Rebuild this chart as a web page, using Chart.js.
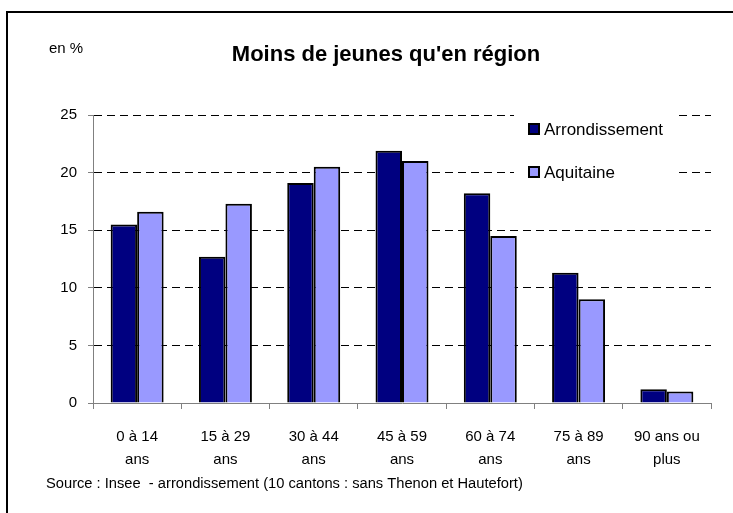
<!DOCTYPE html>
<html>
<head>
<meta charset="utf-8">
<script src="https://cdn.jsdelivr.net/npm/chart.js@4/dist/chart.umd.min.js"></script>
<style>
  html, body { margin: 0; padding: 0; background: #fff; }
  #wrap { position: relative; width: 733px; height: 513px; }
  canvas { display: block; }
</style>
</head>
<body>
<div id="wrap"><canvas id="c" width="733" height="513"></canvas></div>
<script>
const categories = [["0 à 14","ans"],["15 à 29","ans"],["30 à 44","ans"],["45 à 59","ans"],["60 à 74","ans"],["75 à 89","ans"],["90 ans ou","plus"]];
const arrondissement = [15.5, 12.7, 19.1, 21.9, 18.2, 11.3, 1.2];
const aquitaine = [16.6, 17.3, 20.5, 21.0, 14.5, 9.0, 1.0];
const yTicks = [0, 5, 10, 15, 20, 25];
const seriesNames = ["Arrondissement", "Aquitaine"];
const seriesColors = ["#000080", "#9999FF"];
const titleText = "Moins de jeunes qu'en région";
const unitText = "en %";
const sourceText = "Source : Insee  - arrondissement (10 cantons : sans Thenon et Hautefort)";

const FONT = "'Liberation Sans', Arial, sans-serif";

const decor = {
  id: 'decor',
  beforeDraw(chart) {
    const ctx = chart.ctx;
    ctx.save();
    ctx.fillStyle = '#fff';
    ctx.fillRect(0, 0, chart.width, chart.height);
    ctx.strokeStyle = '#000';
    ctx.lineWidth = 2;
    ctx.beginPath();
    ctx.moveTo(7, 520);
    ctx.lineTo(7, 12);
    ctx.lineTo(740, 12);
    ctx.stroke();
    ctx.restore();
  },
  afterDraw(chart) {
    const ctx = chart.ctx;
    ctx.save();
    ctx.fillStyle = '#000';
    ctx.textBaseline = 'middle';
    ctx.textAlign = 'center';
    ctx.font = 'bold 22px ' + FONT;
    ctx.fillText(titleText, 386, 55);
    ctx.textAlign = 'left';
    ctx.font = '15px ' + FONT;
    ctx.fillText(unitText, 49, 49);
    ctx.font = '14.7px ' + FONT;
    ctx.fillText(sourceText, 46, 484);
    // legend
    ctx.fillStyle = '#fff';
    ctx.fillRect(514, 113, 164, 72);
    const ys = [129, 172];
    seriesNames.forEach((n, i) => {
      ctx.fillStyle = seriesColors[i];
      ctx.fillRect(529, ys[i] - 5, 10, 10);
      ctx.strokeStyle = '#000';
      ctx.lineWidth = 2;
      ctx.strokeRect(529, ys[i] - 5, 10, 10);
      ctx.fillStyle = '#000';
      ctx.font = '17px ' + FONT;
      ctx.fillText(n, 544, ys[i] + 1);
    });
    ctx.restore();
  }
};

new Chart(document.getElementById('c'), {
  type: 'bar',
  data: {
    labels: categories,
    datasets: [
      { label: seriesNames[0], data: arrondissement, backgroundColor: seriesColors[0], borderColor: '#000', borderWidth: 2, borderSkipped: 'bottom' },
      { label: seriesNames[1], data: aquitaine, backgroundColor: seriesColors[1], borderColor: '#000', borderWidth: 2, borderSkipped: 'bottom' }
    ]
  },
  options: {
    responsive: false,
    animation: false,
    devicePixelRatio: 1,
    layout: { padding: { left: 0, top: 115, right: 22, bottom: 0 } },
    plugins: { legend: { display: false }, title: { display: false }, tooltip: { enabled: false } },
    datasets: { bar: { categoryPercentage: 0.6, barPercentage: 1.0 } },
    scales: {
      x: {
        offset: true,
        grid: { offset: true, drawOnChartArea: false, drawTicks: true, tickLength: 6, color: '#808080', lineWidth: 1 },
        border: { display: true, color: '#808080', width: 1 },
        ticks: { color: '#000', font: { family: FONT, size: 15, lineHeight: 1.53 }, padding: 16, maxRotation: 0, autoSkip: false },
        afterFit(s) { s.height = 110; }
      },
      y: {
        min: 0, max: 25,
        afterBuildTicks(s) { s.ticks = yTicks.map(v => ({ value: v })); },
        grid: {
          color: (c) => c.tick && c.tick.value === 0 ? 'rgba(0,0,0,0)' : '#000',
          tickColor: '#808080',
          tickBorderDash: [],
          tickLength: 5,
          lineWidth: 1
        },
        border: { display: true, color: '#808080', width: 1, dash: [8, 5] },
        ticks: { color: '#000', font: { family: FONT, size: 15 }, padding: 11 },
        afterFit(s) { s.width = 93; }
      }
    }
  },
  plugins: [decor]
});
</script>
</body>
</html>
